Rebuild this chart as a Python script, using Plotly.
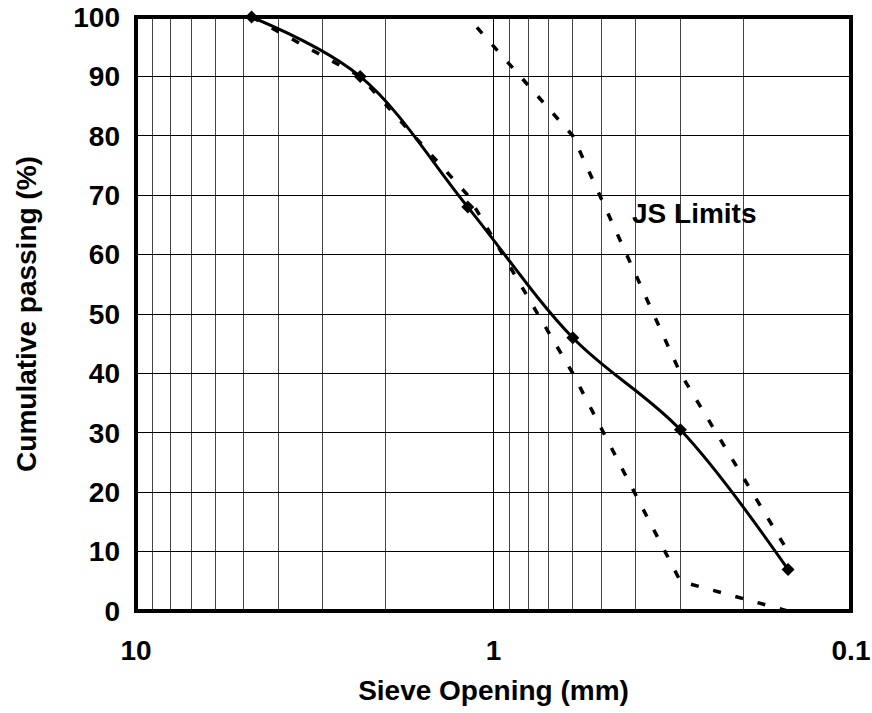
import plotly.graph_objects as go

# ---- data ----
sieve_mm = [4.75, 2.36, 1.18, 0.6, 0.3, 0.15]
passing = [100, 90, 68, 46, 30.5, 7]

lower_sieve = [4.75, 2.36, 1.18, 0.6, 0.3, 0.15]
lower_limit = [100, 90, 70, 40, 5, 0]

upper_sieve = [4.75, 2.36, 1.18, 0.6, 0.3, 0.15]
upper_limit = [100, 100, 100, 80, 40, 10]

x_tickvals = [10, 1, 0.1]
x_ticktext = ["10", "1", "0.1"]
x_minor_vals = [9, 8, 7, 6, 5, 4, 3, 2, 0.9, 0.8, 0.7, 0.6, 0.5, 0.4, 0.3, 0.2]
y_tickvals = [0, 10, 20, 30, 40, 50, 60, 70, 80, 90, 100]

limit_label = "JS Limits"
x_title = "Sieve Opening (mm)"
y_title = "Cumulative passing (%)"

FONT = "Liberation Sans, Arial, sans-serif"
FS = 28

fig = go.Figure()

dash_style = dict(color="black", width=3.5, dash="8px,15px")
fig.add_trace(go.Scatter(x=upper_sieve, y=upper_limit, mode="lines",
                         line=dash_style, showlegend=False, hoverinfo="skip"))
fig.add_trace(go.Scatter(x=lower_sieve, y=lower_limit, mode="lines",
                         line=dash_style, showlegend=False, hoverinfo="skip"))
fig.add_trace(go.Scatter(x=sieve_mm, y=passing, mode="lines+markers",
                         line=dict(color="black", width=3, shape="spline"),
                         marker=dict(symbol="diamond", size=10, color="black"),
                         cliponaxis=False, showlegend=False))

# white text-box behind the label (covers grid lines only)
fig.add_shape(type="rect", xref="paper", yref="paper",
              x0=0.684, x1=0.8965, y0=0.628, y1=0.7088,
              line=dict(width=0), fillcolor="white", layer="between")
fig.add_annotation(text=limit_label, xref="paper", yref="paper",
                   x=0.7804, y=0.670, xanchor="center", yanchor="middle",
                   showarrow=False,
                   font=dict(family=FONT, size=FS, color="black", weight="bold"))

# plot frame
fig.add_shape(type="rect", xref="paper", yref="paper", x0=0, x1=1, y0=0, y1=1,
              line=dict(color="black", width=4), fillcolor="rgba(0,0,0,0)",
              layer="above")

axis_common = dict(showline=False, gridcolor="black", gridwidth=1, ticks="",
                   tickfont=dict(family=FONT, size=FS, color="black", weight="bold"),
                   zeroline=False, automargin=True)

fig.update_xaxes(type="log", range=[1, -1], tickmode="array",
                 tickvals=x_tickvals, ticktext=x_ticktext,
                 ticklabelstandoff=20,
                 minor=dict(tickmode="array", tickvals=x_minor_vals, showgrid=True,
                            gridcolor="#444444", gridwidth=1, ticks=""),
                 title=dict(text=x_title, standoff=15,
                            font=dict(family=FONT, size=FS, color="black", weight="bold")),
                 **axis_common)
fig.update_yaxes(range=[0, 100], tickmode="array", tickvals=y_tickvals,
                 ticklabelstandoff=15,
                 title=dict(text=y_title, standoff=28,
                            font=dict(family=FONT, size=FS, color="black", weight="bold")),
                 **axis_common)

fig.update_layout(width=872, height=713,
                  margin=dict(l=136, r=21, t=17, b=102, autoexpand=False),
                  paper_bgcolor="white", plot_bgcolor="white")

fig.write_html("out.html")
